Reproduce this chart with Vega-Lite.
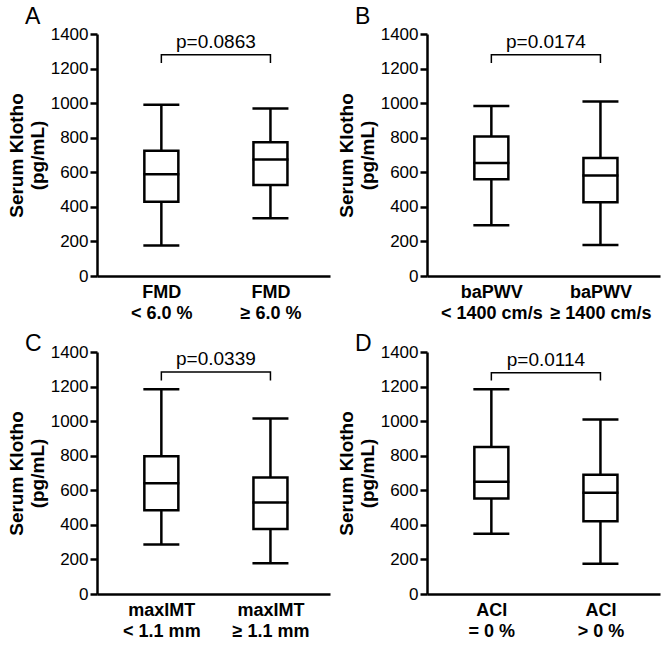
{
  "$schema": "https://vega.github.io/schema/vega-lite/v6.json",
  "padding": {"left": 7, "top": 6, "right": 3, "bottom": 2},
  "background": "white",
  "datasets": {
    "boxes": [
      {"panel": "A", "g": 1, "lower": 176, "q1": 429, "median": 589, "q3": 724, "upper": 990},
      {"panel": "A", "g": 2, "lower": 334, "q1": 527, "median": 674, "q3": 774, "upper": 969},
      {"panel": "B", "g": 1, "lower": 293, "q1": 560, "median": 654, "q3": 807, "upper": 983},
      {"panel": "B", "g": 2, "lower": 180, "q1": 427, "median": 581, "q3": 683, "upper": 1010},
      {"panel": "C", "g": 1, "lower": 286, "q1": 485, "median": 641, "q3": 797, "upper": 1185},
      {"panel": "C", "g": 2, "lower": 178, "q1": 376, "median": 529, "q3": 674, "upper": 1015},
      {"panel": "D", "g": 1, "lower": 349, "q1": 553, "median": 650, "q3": 851, "upper": 1185},
      {"panel": "D", "g": 2, "lower": 175, "q1": 421, "median": 586, "q3": 690, "upper": 1010}
    ],
    "bracket": [
      {"panel": "A", "o": 1, "g": 1, "v": 1232}, {"panel": "A", "o": 2, "g": 1, "v": 1280}, {"panel": "A", "o": 3, "g": 2, "v": 1280}, {"panel": "A", "o": 4, "g": 2, "v": 1232},
      {"panel": "B", "o": 1, "g": 1, "v": 1232}, {"panel": "B", "o": 2, "g": 1, "v": 1280}, {"panel": "B", "o": 3, "g": 2, "v": 1280}, {"panel": "B", "o": 4, "g": 2, "v": 1232},
      {"panel": "C", "o": 1, "g": 1, "v": 1235}, {"panel": "C", "o": 2, "g": 1, "v": 1285}, {"panel": "C", "o": 3, "g": 2, "v": 1285}, {"panel": "C", "o": 4, "g": 2, "v": 1235},
      {"panel": "D", "o": 1, "g": 1, "v": 1235}, {"panel": "D", "o": 2, "g": 1, "v": 1280}, {"panel": "D", "o": 3, "g": 2, "v": 1280}, {"panel": "D", "o": 4, "g": 2, "v": 1235}
    ],
    "pvals": [
      {"panel": "A", "g": 1.5, "v": 1280, "p": "p=0.0863"},
      {"panel": "B", "g": 1.5, "v": 1280, "p": "p=0.0174"},
      {"panel": "C", "g": 1.5, "v": 1285, "p": "p=0.0339"},
      {"panel": "D", "g": 1.5, "v": 1280, "p": "p=0.0114"}
    ]
  },
  "columns": 2,
  "spacing": {"row": 11, "column": 7},
  "concat": [
    {
      "width": 233, "height": 242,
      "title": {"text": "A", "offset": -4},
      "encoding": {
        "x": {"field": "g", "type": "quantitative", "scale": {"domain": [0.456, 2.5], "nice": false},
              "axis": {"values": [1, 2], "title": null, "labelExpr": "datum.value == 1 ? ['FMD', '< 6.0 %'] : ['FMD', '≥ 6.0 %']"}}
      },
      "layer": [
        {"data": {"name": "boxes"}, "transform": [{"filter": "datum.panel == 'A'"}], "mark": {"type": "rule", "color": "black", "strokeWidth": 2.5},
         "encoding": {"y": {"field": "lower", "type": "quantitative", "scale": {"domain": [0, 1400], "nice": false}, "axis": {"values": [0, 200, 400, 600, 800, 1000, 1200, 1400], "tickCount": 8, "labelOverlap": false, "format": "d", "title": ["Serum Klotho", "(pg/mL)"]}}, "y2": {"field": "upper"}}},
        {"data": {"name": "boxes"}, "transform": [{"filter": "datum.panel == 'A'"}], "mark": {"type": "bar", "fill": "white", "stroke": "black", "strokeWidth": 2.5, "size": 34},
         "encoding": {"y": {"field": "q1", "type": "quantitative", "axis": {"values": [0, 200, 400, 600, 800, 1000, 1200, 1400], "tickCount": 8, "labelOverlap": false, "format": "d", "title": ["Serum Klotho", "(pg/mL)"]}}, "y2": {"field": "q3"}}},
        {"data": {"name": "boxes"}, "transform": [{"filter": "datum.panel == 'A'"}], "mark": {"type": "tick", "orient": "horizontal", "color": "black", "size": 36, "thickness": 2.5, "opacity": 1},
         "encoding": {"y": {"field": "median", "type": "quantitative", "axis": {"values": [0, 200, 400, 600, 800, 1000, 1200, 1400], "tickCount": 8, "labelOverlap": false, "format": "d", "title": ["Serum Klotho", "(pg/mL)"]}}}},
        {"data": {"name": "boxes"}, "transform": [{"filter": "datum.panel == 'A'"}], "mark": {"type": "tick", "orient": "horizontal", "color": "black", "size": 36, "thickness": 2.5, "opacity": 1},
         "encoding": {"y": {"field": "lower", "type": "quantitative", "axis": {"values": [0, 200, 400, 600, 800, 1000, 1200, 1400], "tickCount": 8, "labelOverlap": false, "format": "d", "title": ["Serum Klotho", "(pg/mL)"]}}}},
        {"data": {"name": "boxes"}, "transform": [{"filter": "datum.panel == 'A'"}], "mark": {"type": "tick", "orient": "horizontal", "color": "black", "size": 36, "thickness": 2.5, "opacity": 1},
         "encoding": {"y": {"field": "upper", "type": "quantitative", "axis": {"values": [0, 200, 400, 600, 800, 1000, 1200, 1400], "tickCount": 8, "labelOverlap": false, "format": "d", "title": ["Serum Klotho", "(pg/mL)"]}}}},
        {"data": {"name": "bracket"}, "transform": [{"filter": "datum.panel == 'A'"}], "mark": {"type": "line", "color": "black", "strokeWidth": 1.5},
         "encoding": {"y": {"field": "v", "type": "quantitative", "axis": {"values": [0, 200, 400, 600, 800, 1000, 1200, 1400], "tickCount": 8, "labelOverlap": false, "format": "d", "title": ["Serum Klotho", "(pg/mL)"]}}, "order": {"field": "o"}}},
        {"data": {"name": "pvals"}, "transform": [{"filter": "datum.panel == 'A'"}], "mark": {"type": "text", "font": "Liberation Sans", "fontSize": 19, "baseline": "alphabetic", "dy": -7},
         "encoding": {"y": {"field": "v", "type": "quantitative", "axis": {"values": [0, 200, 400, 600, 800, 1000, 1200, 1400], "tickCount": 8, "labelOverlap": false, "format": "d", "title": ["Serum Klotho", "(pg/mL)"]}}, "text": {"field": "p"}}}
      ]
    },
    {
      "width": 233, "height": 242,
      "title": {"text": "B", "offset": -4},
      "encoding": {
        "x": {"field": "g", "type": "quantitative", "scale": {"domain": [0.456, 2.5], "nice": false},
              "axis": {"values": [1, 2], "title": null, "labelExpr": "datum.value == 1 ? ['baPWV', '< 1400 cm/s'] : ['baPWV', '≥ 1400 cm/s']"}}
      },
      "layer": [
        {"data": {"name": "boxes"}, "transform": [{"filter": "datum.panel == 'B'"}], "mark": {"type": "rule", "color": "black", "strokeWidth": 2.5},
         "encoding": {"y": {"field": "lower", "type": "quantitative", "scale": {"domain": [0, 1400], "nice": false}, "axis": {"values": [0, 200, 400, 600, 800, 1000, 1200, 1400], "tickCount": 8, "labelOverlap": false, "format": "d", "title": ["Serum Klotho", "(pg/mL)"]}}, "y2": {"field": "upper"}}},
        {"data": {"name": "boxes"}, "transform": [{"filter": "datum.panel == 'B'"}], "mark": {"type": "bar", "fill": "white", "stroke": "black", "strokeWidth": 2.5, "size": 34},
         "encoding": {"y": {"field": "q1", "type": "quantitative", "axis": {"values": [0, 200, 400, 600, 800, 1000, 1200, 1400], "tickCount": 8, "labelOverlap": false, "format": "d", "title": ["Serum Klotho", "(pg/mL)"]}}, "y2": {"field": "q3"}}},
        {"data": {"name": "boxes"}, "transform": [{"filter": "datum.panel == 'B'"}], "mark": {"type": "tick", "orient": "horizontal", "color": "black", "size": 36, "thickness": 2.5, "opacity": 1},
         "encoding": {"y": {"field": "median", "type": "quantitative", "axis": {"values": [0, 200, 400, 600, 800, 1000, 1200, 1400], "tickCount": 8, "labelOverlap": false, "format": "d", "title": ["Serum Klotho", "(pg/mL)"]}}}},
        {"data": {"name": "boxes"}, "transform": [{"filter": "datum.panel == 'B'"}], "mark": {"type": "tick", "orient": "horizontal", "color": "black", "size": 36, "thickness": 2.5, "opacity": 1},
         "encoding": {"y": {"field": "lower", "type": "quantitative", "axis": {"values": [0, 200, 400, 600, 800, 1000, 1200, 1400], "tickCount": 8, "labelOverlap": false, "format": "d", "title": ["Serum Klotho", "(pg/mL)"]}}}},
        {"data": {"name": "boxes"}, "transform": [{"filter": "datum.panel == 'B'"}], "mark": {"type": "tick", "orient": "horizontal", "color": "black", "size": 36, "thickness": 2.5, "opacity": 1},
         "encoding": {"y": {"field": "upper", "type": "quantitative", "axis": {"values": [0, 200, 400, 600, 800, 1000, 1200, 1400], "tickCount": 8, "labelOverlap": false, "format": "d", "title": ["Serum Klotho", "(pg/mL)"]}}}},
        {"data": {"name": "bracket"}, "transform": [{"filter": "datum.panel == 'B'"}], "mark": {"type": "line", "color": "black", "strokeWidth": 1.5},
         "encoding": {"y": {"field": "v", "type": "quantitative", "axis": {"values": [0, 200, 400, 600, 800, 1000, 1200, 1400], "tickCount": 8, "labelOverlap": false, "format": "d", "title": ["Serum Klotho", "(pg/mL)"]}}, "order": {"field": "o"}}},
        {"data": {"name": "pvals"}, "transform": [{"filter": "datum.panel == 'B'"}], "mark": {"type": "text", "font": "Liberation Sans", "fontSize": 19, "baseline": "alphabetic", "dy": -7},
         "encoding": {"y": {"field": "v", "type": "quantitative", "axis": {"values": [0, 200, 400, 600, 800, 1000, 1200, 1400], "tickCount": 8, "labelOverlap": false, "format": "d", "title": ["Serum Klotho", "(pg/mL)"]}}, "text": {"field": "p"}}}
      ]
    },
    {
      "width": 233, "height": 242,
      "title": {"text": "C", "offset": -13},
      "encoding": {
        "x": {"field": "g", "type": "quantitative", "scale": {"domain": [0.456, 2.5], "nice": false},
              "axis": {"values": [1, 2], "title": null, "labelExpr": "datum.value == 1 ? ['maxIMT', '< 1.1 mm'] : ['maxIMT', '≥ 1.1 mm']"}}
      },
      "layer": [
        {"data": {"name": "boxes"}, "transform": [{"filter": "datum.panel == 'C'"}], "mark": {"type": "rule", "color": "black", "strokeWidth": 2.5},
         "encoding": {"y": {"field": "lower", "type": "quantitative", "scale": {"domain": [0, 1400], "nice": false}, "axis": {"values": [0, 200, 400, 600, 800, 1000, 1200, 1400], "tickCount": 8, "labelOverlap": false, "format": "d", "title": ["Serum Klotho", "(pg/mL)"]}}, "y2": {"field": "upper"}}},
        {"data": {"name": "boxes"}, "transform": [{"filter": "datum.panel == 'C'"}], "mark": {"type": "bar", "fill": "white", "stroke": "black", "strokeWidth": 2.5, "size": 34},
         "encoding": {"y": {"field": "q1", "type": "quantitative", "axis": {"values": [0, 200, 400, 600, 800, 1000, 1200, 1400], "tickCount": 8, "labelOverlap": false, "format": "d", "title": ["Serum Klotho", "(pg/mL)"]}}, "y2": {"field": "q3"}}},
        {"data": {"name": "boxes"}, "transform": [{"filter": "datum.panel == 'C'"}], "mark": {"type": "tick", "orient": "horizontal", "color": "black", "size": 36, "thickness": 2.5, "opacity": 1},
         "encoding": {"y": {"field": "median", "type": "quantitative", "axis": {"values": [0, 200, 400, 600, 800, 1000, 1200, 1400], "tickCount": 8, "labelOverlap": false, "format": "d", "title": ["Serum Klotho", "(pg/mL)"]}}}},
        {"data": {"name": "boxes"}, "transform": [{"filter": "datum.panel == 'C'"}], "mark": {"type": "tick", "orient": "horizontal", "color": "black", "size": 36, "thickness": 2.5, "opacity": 1},
         "encoding": {"y": {"field": "lower", "type": "quantitative", "axis": {"values": [0, 200, 400, 600, 800, 1000, 1200, 1400], "tickCount": 8, "labelOverlap": false, "format": "d", "title": ["Serum Klotho", "(pg/mL)"]}}}},
        {"data": {"name": "boxes"}, "transform": [{"filter": "datum.panel == 'C'"}], "mark": {"type": "tick", "orient": "horizontal", "color": "black", "size": 36, "thickness": 2.5, "opacity": 1},
         "encoding": {"y": {"field": "upper", "type": "quantitative", "axis": {"values": [0, 200, 400, 600, 800, 1000, 1200, 1400], "tickCount": 8, "labelOverlap": false, "format": "d", "title": ["Serum Klotho", "(pg/mL)"]}}}},
        {"data": {"name": "bracket"}, "transform": [{"filter": "datum.panel == 'C'"}], "mark": {"type": "line", "color": "black", "strokeWidth": 1.5},
         "encoding": {"y": {"field": "v", "type": "quantitative", "axis": {"values": [0, 200, 400, 600, 800, 1000, 1200, 1400], "tickCount": 8, "labelOverlap": false, "format": "d", "title": ["Serum Klotho", "(pg/mL)"]}}, "order": {"field": "o"}}},
        {"data": {"name": "pvals"}, "transform": [{"filter": "datum.panel == 'C'"}], "mark": {"type": "text", "font": "Liberation Sans", "fontSize": 19, "baseline": "alphabetic", "dy": -7},
         "encoding": {"y": {"field": "v", "type": "quantitative", "axis": {"values": [0, 200, 400, 600, 800, 1000, 1200, 1400], "tickCount": 8, "labelOverlap": false, "format": "d", "title": ["Serum Klotho", "(pg/mL)"]}}, "text": {"field": "p"}}}
      ]
    },
    {
      "width": 233, "height": 242,
      "title": {"text": "D", "offset": -13},
      "encoding": {
        "x": {"field": "g", "type": "quantitative", "scale": {"domain": [0.456, 2.5], "nice": false},
              "axis": {"values": [1, 2], "title": null, "labelExpr": "datum.value == 1 ? ['ACI', '= 0 %'] : ['ACI', '> 0 %']"}}
      },
      "layer": [
        {"data": {"name": "boxes"}, "transform": [{"filter": "datum.panel == 'D'"}], "mark": {"type": "rule", "color": "black", "strokeWidth": 2.5},
         "encoding": {"y": {"field": "lower", "type": "quantitative", "scale": {"domain": [0, 1400], "nice": false}, "axis": {"values": [0, 200, 400, 600, 800, 1000, 1200, 1400], "tickCount": 8, "labelOverlap": false, "format": "d", "title": ["Serum Klotho", "(pg/mL)"]}}, "y2": {"field": "upper"}}},
        {"data": {"name": "boxes"}, "transform": [{"filter": "datum.panel == 'D'"}], "mark": {"type": "bar", "fill": "white", "stroke": "black", "strokeWidth": 2.5, "size": 34},
         "encoding": {"y": {"field": "q1", "type": "quantitative", "axis": {"values": [0, 200, 400, 600, 800, 1000, 1200, 1400], "tickCount": 8, "labelOverlap": false, "format": "d", "title": ["Serum Klotho", "(pg/mL)"]}}, "y2": {"field": "q3"}}},
        {"data": {"name": "boxes"}, "transform": [{"filter": "datum.panel == 'D'"}], "mark": {"type": "tick", "orient": "horizontal", "color": "black", "size": 36, "thickness": 2.5, "opacity": 1},
         "encoding": {"y": {"field": "median", "type": "quantitative", "axis": {"values": [0, 200, 400, 600, 800, 1000, 1200, 1400], "tickCount": 8, "labelOverlap": false, "format": "d", "title": ["Serum Klotho", "(pg/mL)"]}}}},
        {"data": {"name": "boxes"}, "transform": [{"filter": "datum.panel == 'D'"}], "mark": {"type": "tick", "orient": "horizontal", "color": "black", "size": 36, "thickness": 2.5, "opacity": 1},
         "encoding": {"y": {"field": "lower", "type": "quantitative", "axis": {"values": [0, 200, 400, 600, 800, 1000, 1200, 1400], "tickCount": 8, "labelOverlap": false, "format": "d", "title": ["Serum Klotho", "(pg/mL)"]}}}},
        {"data": {"name": "boxes"}, "transform": [{"filter": "datum.panel == 'D'"}], "mark": {"type": "tick", "orient": "horizontal", "color": "black", "size": 36, "thickness": 2.5, "opacity": 1},
         "encoding": {"y": {"field": "upper", "type": "quantitative", "axis": {"values": [0, 200, 400, 600, 800, 1000, 1200, 1400], "tickCount": 8, "labelOverlap": false, "format": "d", "title": ["Serum Klotho", "(pg/mL)"]}}}},
        {"data": {"name": "bracket"}, "transform": [{"filter": "datum.panel == 'D'"}], "mark": {"type": "line", "color": "black", "strokeWidth": 1.5},
         "encoding": {"y": {"field": "v", "type": "quantitative", "axis": {"values": [0, 200, 400, 600, 800, 1000, 1200, 1400], "tickCount": 8, "labelOverlap": false, "format": "d", "title": ["Serum Klotho", "(pg/mL)"]}}, "order": {"field": "o"}}},
        {"data": {"name": "pvals"}, "transform": [{"filter": "datum.panel == 'D'"}], "mark": {"type": "text", "font": "Liberation Sans", "fontSize": 19, "baseline": "alphabetic", "dy": -7},
         "encoding": {"y": {"field": "v", "type": "quantitative", "axis": {"values": [0, 200, 400, 600, 800, 1000, 1200, 1400], "tickCount": 8, "labelOverlap": false, "format": "d", "title": ["Serum Klotho", "(pg/mL)"]}}, "text": {"field": "p"}}}
      ]
    }
  ],
  "config": {
    "view": {"stroke": null},
    "font": "Liberation Sans",
    "title": {"font": "Liberation Sans", "fontSize": 23, "fontWeight": "normal", "anchor": "start", "frame": "group", "dx": -72, "color": "black"},
    "axis": {
      "grid": false,
      "domainColor": "black", "domainWidth": 2.5,
      "tickColor": "black", "tickWidth": 2.5, "tickSize": 7,
      "labelFont": "Liberation Sans", "labelColor": "black",
      "titleFont": "Liberation Sans", "titleColor": "black"
    },
    "axisX": {"ticks": false, "labelFontSize": 18, "labelFontWeight": "bold", "labelLineHeight": 21, "labelPadding": 7, "labelFlush": false, "labelOverlap": false},
    "axisY": {"labelFontSize": 17, "labelPadding": 2, "labelOverlap": false, "titleFontSize": 19, "titleFontWeight": "bold", "titleLineHeight": 21, "titlePadding": 3}
  }
}
